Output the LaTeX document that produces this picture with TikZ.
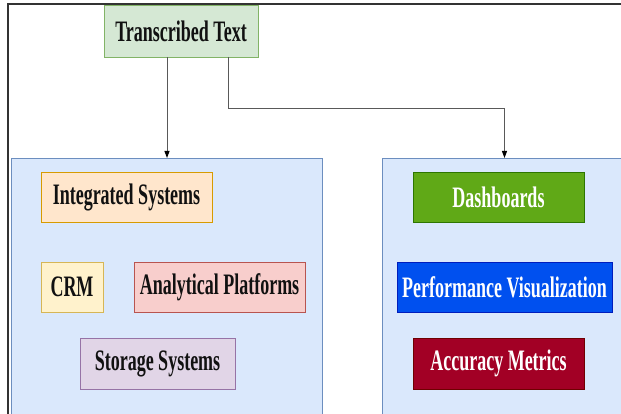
\documentclass[tikz,border=0pt]{standalone}
\usepackage{fontspec}
\setmainfont{Liberation Serif}
\usetikzlibrary{arrows.meta,calc}
\definecolor{gfill}{HTML}{D5E8D4}\definecolor{gdraw}{HTML}{82B366}
\definecolor{bfill}{HTML}{DAE8FC}\definecolor{bdraw}{HTML}{6C8EBF}
\definecolor{ofill}{HTML}{FFE6CC}\definecolor{odraw}{HTML}{D79B00}
\definecolor{yfill}{HTML}{FFF2CC}\definecolor{ydraw}{HTML}{D6B656}
\definecolor{rfill}{HTML}{F8CECC}\definecolor{rdraw}{HTML}{B85450}
\definecolor{pfill}{HTML}{E1D5E7}\definecolor{pdraw}{HTML}{9673A6}
\definecolor{dgfill}{HTML}{60A917}\definecolor{dgdraw}{HTML}{2D7600}
\definecolor{dbfill}{HTML}{0050EF}\definecolor{dbdraw}{HTML}{001DBC}
\definecolor{drfill}{HTML}{A20025}\definecolor{drdraw}{HTML}{6F0000}
\definecolor{txt}{HTML}{111111}
\newcommand{\lbl}[1]{\scalebox{1}[1.65]{\bfseries #1}}
\begin{document}
\begin{tikzpicture}[x=1pt,y=1pt,
  box/.style={draw, line width=0.9pt, inner sep=0pt, font=\fontsize{18}{20}\selectfont, text=txt},
  cont/.style={draw=bdraw, fill=bfill, line width=1pt},
  conn/.style={draw=black!65, line width=1pt, -{Triangle[length=7pt,width=5pt,color=black]}}]
\useasboundingbox (0,0) rectangle (621,414);
\draw[black!80, line width=1.5pt] (8,-10) -- (8,410) -- (640,410);
\node[cont, minimum width=311, minimum height=270, anchor=north west] (lc) at (11,256) {};
\node[cont, minimum width=246, minimum height=270, anchor=north west] (rc) at (382,256) {};
\node[box, draw=gdraw, fill=gfill, minimum width=154, minimum height=52] (tt) at (181,383) {\lbl{Transcribed Text}};
\node[box, draw=odraw, fill=ofill, minimum width=171, minimum height=50] (is) at (126.5,217) {\lbl{Integrated Systems}};
\node[box, draw=ydraw, fill=yfill, minimum width=62, minimum height=50] (crm) at (72,127) {\lbl{CRM}};
\node[box, draw=rdraw, fill=rfill, minimum width=171, minimum height=50] (ap) at (219.5,127) {\lbl{Analytical Platforms}};
\node[box, draw=pdraw, fill=pfill, minimum width=155, minimum height=51] (ss) at (157.5,50.5) {\lbl{Storage Systems}};
\node[box, draw=dgdraw, fill=dgfill, text=white, minimum width=171, minimum height=50] (db) at (498.5,217) {\lbl{Dashboards}};
\node[box, draw=dbdraw, fill=dbfill, text=white, minimum width=215, minimum height=50] (pv) at (504.5,127) {\lbl{Performance Visualization}};
\node[box, draw=drdraw, fill=drfill, text=white, minimum width=171, minimum height=51] (am) at (498.5,50.5) {\lbl{Accuracy Metrics}};
\draw[conn] (tt.south -| lc.north) -- (lc.north);
\draw[conn] ([xshift=47pt]tt.south) -- ++(0,-51) -| ([xshift=-1pt]rc.north);
\end{tikzpicture}
\end{document}
